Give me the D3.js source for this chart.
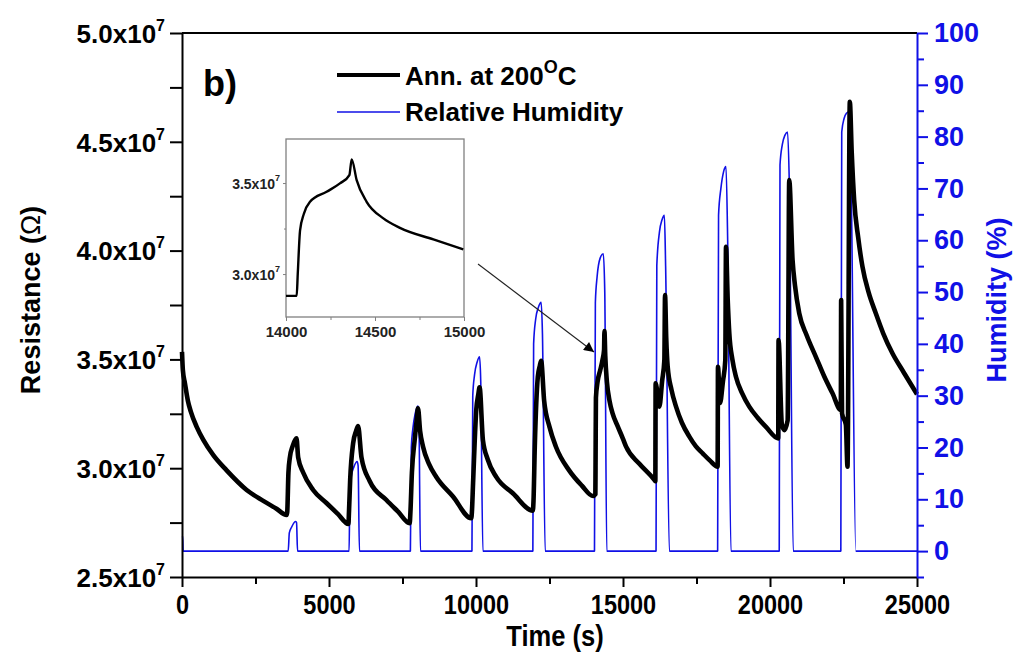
<!DOCTYPE html>
<html><head><meta charset="utf-8">
<script src="https://cdn.jsdelivr.net/npm/d3@7"></script>
<style>
body{margin:0;background:#fff}
svg{display:block}
text{font-family:"Liberation Sans",Arial,Helvetica,sans-serif}
</style>
</head><body>
<svg id="chart" width="1016" height="652"></svg>
<script>
// ---------------- data ----------------
// Resistance (units of 1e7 ohm) vs time (s)
const timeRes = [0,30,100,200,300,500,725,1065,1518,2198,2764,3200,3560,
  3580,3620,3670,3760,3895,3951,4121,4460,4913,5300,5660,
  5680,5720,5820,5920,5990,6104,6387,6953,7350,7745,
  7770,7820,7914,7980,8027,8100,8197,8400,8650,9217,9840,
  9861,9900,10010,10080,10122,10235,10400,10688,11254,11934,
  11956,12000,12103,12170,12216,12318,12500,12715,13168,13600,13983,
  14060,14066,14079,14135,14228,14303,14356,14369,14397,14453,14547,14640,14828,14996,
  15105,15557,16067,16100,
  16110,16237,16330,16407,16430,16470,16520,16650,16804,17000,17257,17480,17710,17950,18219,
  18230,18300,18400,18480,18503,18560,18616,18720,18842,19050,19295,19580,19862,20280,
  20291,20400,20484,20600,20654,20767,20850,20994,21250,21560,21850,22126,22409,
  22420,22450,22580,22636,22715,22780,22862,23000,23145,23350,23598,23850,24164,24550,25000];
const resistance = [3.535,3.45,3.39,3.31,3.26,3.19,3.13,3.06,2.99,2.90,2.85,2.815,2.785,
  2.80,2.98,3.05,3.10,3.137,3.05,2.98,2.90,2.84,2.79,2.744,
  2.80,2.946,3.114,3.17,3.194,3.05,2.94,2.854,2.80,2.747,
  2.80,2.98,3.13,3.22,3.275,3.17,3.10,3.02,2.96,2.87,2.77,
  2.80,2.93,3.27,3.34,3.372,3.13,3.04,2.96,2.885,2.805,
  2.85,3.10,3.42,3.47,3.493,3.31,3.19,3.10,2.99,2.92,2.872,
  2.88,3.0,3.324,3.397,3.452,3.498,3.544,3.63,3.516,3.397,3.306,3.254,3.19,3.136,
  3.099,3.02,2.946,2.94,
  3.39,3.283,3.40,3.497,3.796,3.60,3.466,3.36,3.283,3.21,3.145,3.10,3.068,3.036,3.007,
  3.466,3.30,3.40,3.497,4.018,3.78,3.62,3.50,3.42,3.345,3.283,3.232,3.19,3.137,
  3.589,3.206,3.175,3.22,4.324,3.957,3.84,3.712,3.61,3.512,3.42,3.344,3.267,
  3.773,3.252,3.20,3.007,4.684,4.45,4.233,4.06,3.926,3.81,3.712,3.62,3.528,3.44,3.34];

// Relative humidity (%) vs time (s)
const timeRH = [0,20,40,
  3612,3650,3726,3800,3860,3896,3930,
  5684,5710,5760,5850,5956,5990,6035,
  7768,7800,7850,7930,8000,8027,8060,8110,
  9862,9890,9950,10040,10122,10160,10235,
  11934,11960,12030,12120,12216,12260,12353,
  14030,14060,14120,14220,14330,14380,14448,
  16124,16150,16240,16330,16407,16450,16577,
  18219,18250,18330,18420,18503,18560,18672,
  20314,20340,20420,20510,20597,20660,20790,
  22409,22440,22520,22600,22692,22750,22919,25000];
const humidity = [3,3,0,
  0,3.5,4.6,5.4,5.7,5.5,0,
  0,12,14.5,16.3,17.3,16.5,0,
  0,20,23.5,26.5,27.8,28,25,0,
  0,30,34,36.5,37.5,33,0,
  0,40,44.8,47,48,42,0,
  0,48,53,56.5,57.4,50,0,
  0,55.1,61.6,64,64.8,55,0,
  0,64.8,70,73.2,74.2,60,0,
  0,74.5,78.5,80.3,80.9,70,0,
  0,80.9,83.5,84.5,84.8,75,0,0];

// Inset: zoom on one cycle
const insetTime = [14000,14060,14066,14079,14100,14135,14228,14303,14356,14369,14397,14453,14547,14640,14828,14996];
const insetRes  = [2.88,2.88,3.0,3.24,3.33,3.397,3.452,3.498,3.544,3.63,3.516,3.397,3.306,3.254,3.19,3.136];

const xTicks = [0,5000,10000,15000,20000,25000];
const xMinor = [2500,7500,12500,17500,22500];
const leftTicks = [2.5,3.0,3.5,4.0,4.5,5.0];
const leftMinor = [2.75,3.25,3.75,4.25,4.75];
const rightTicks = [0,10,20,30,40,50,60,70,80,90,100];
const rightMinor = [-5,5,15,25,35,45,55,65,75,85,95];
const insetXTicks = [14000,14500,15000];
const insetXMinor = [14250,14750];
const insetYTicks = [3.0,3.5];
const insetYMinor = [3.25];

// ---------------- drawing ----------------
const BLUE = "#1010e6";
const svg = d3.select("#chart");
const x = d3.scaleLinear([0,25000],[182,917]);
const yL = d3.scaleLinear([2.5,5.0],[577,33]);
const yR = d3.scaleLinear([-5,100],[577,33]);

// data lines
svg.append("path")
  .attr("d", d3.line().curve(d3.curveMonotoneX).x((d,i)=>x(timeRH[i])).y(d=>yR(d))(humidity))
  .attr("fill","none").attr("stroke",BLUE).attr("stroke-width",1.6).attr("stroke-linejoin","round");
svg.append("path")
  .attr("d", d3.line().curve(d3.curveMonotoneX).x((d,i)=>x(timeRes[i])).y(d=>yL(d))(resistance))
  .attr("fill","none").attr("stroke","#000").attr("stroke-width",4.6).attr("stroke-linejoin","round");

// frame top
svg.append("line").attr("x1",182).attr("x2",917).attr("y1",33).attr("y2",33).attr("stroke","#000").attr("stroke-width",2);

function styleAxis(g, color, w){
  g.select(".domain").attr("stroke",color).attr("stroke-width",w);
  g.selectAll(".tick line").attr("stroke",color).attr("stroke-width",w);
}

// bottom axis
const gx = svg.append("g").attr("transform","translate(0,577)")
  .call(d3.axisBottom(x).tickValues(xTicks).tickSize(10).tickPadding(6).tickSizeOuter(0).tickFormat(d3.format("d")));
styleAxis(gx,"#000",2);
gx.selectAll("text").attr("font-size",28).attr("font-weight","bold").attr("fill","#000")
  .attr("transform","scale(0.84,1)").attr("dy","0.75em");
const gxm = svg.append("g").attr("transform","translate(0,577)")
  .call(d3.axisBottom(x).tickValues(xMinor).tickSize(7).tickFormat(""));
gxm.select(".domain").remove(); styleAxis(gxm,"#000",2);

// left axis
const gl = svg.append("g").attr("transform","translate(182,0)")
  .call(d3.axisLeft(yL).tickValues(leftTicks).tickSize(12).tickSizeOuter(0).tickFormat(""));
styleAxis(gl,"#000",2);
gl.selectAll(".tick").append("text")
  .attr("x",-17).attr("dy","0.36em").attr("text-anchor","end")
  .attr("font-size",26).attr("font-weight","bold").attr("fill","#000")
  .each(function(d){
    const t = d3.select(this);
    t.append("tspan").text(d3.format(".1f")(d)+"x10");
    t.append("tspan").attr("font-size",16).attr("dy","-0.75em").text("7");
  });
const glm = svg.append("g").attr("transform","translate(182,0)")
  .call(d3.axisLeft(yL).tickValues(leftMinor).tickSize(12).tickFormat(""));
glm.select(".domain").remove(); styleAxis(glm,"#000",2);

// right axis
const gr = svg.append("g").attr("transform","translate(917,0)")
  .call(d3.axisRight(yR).tickValues(rightTicks).tickSize(11).tickPadding(6).tickSizeOuter(0));
styleAxis(gr,BLUE,2);
gr.selectAll("text").attr("font-size",27).attr("font-weight","bold").attr("fill",BLUE);
const grm = svg.append("g").attr("transform","translate(917,0)")
  .call(d3.axisRight(yR).tickValues(rightMinor).tickSize(7).tickFormat(""));
grm.select(".domain").remove(); styleAxis(grm,BLUE,2);

// axis titles
svg.append("text").attr("transform","translate(40,300) rotate(-90)").attr("text-anchor","middle")
  .attr("font-size",27).attr("font-weight","bold").attr("fill","#000")
  .call(t=>{t.append("tspan").text("Resistance (");t.append("tspan").attr("font-weight","normal").text("Ω");t.append("tspan").text(")");});
svg.append("text").attr("transform","translate(1006,300) rotate(-90)").attr("text-anchor","middle")
  .attr("font-size",27).attr("font-weight","bold").attr("fill",BLUE).text("Humidity (%)");
svg.append("text").attr("transform","translate(555,646) scale(0.85,1)").attr("text-anchor","middle")
  .attr("font-size",30).attr("font-weight","bold").attr("fill","#000").text("Time (s)");

// panel label & legend
svg.append("text").attr("x",203).attr("y",96).attr("font-size",36).attr("font-weight","bold").text("b)");
svg.append("line").attr("x1",337).attr("x2",400).attr("y1",75).attr("y2",75).attr("stroke","#000").attr("stroke-width",4);
svg.append("text").attr("x",405).attr("y",85).attr("font-size",26).attr("font-weight","bold")
  .call(t=>{t.append("tspan").text("Ann. at 200");t.append("tspan").attr("font-size",18).attr("dy","-0.65em").text("O");t.append("tspan").attr("dy","0.45em").text("C");});
svg.append("line").attr("x1",337).attr("x2",400).attr("y1",112).attr("y2",112).attr("stroke",BLUE).attr("stroke-width",1.6);
svg.append("text").attr("x",405).attr("y",121).attr("font-size",26).attr("font-weight","bold").text("Relative Humidity");

// inset
const ix = d3.scaleLinear([14000,15000],[286,464]);
const iy = d3.scaleLinear([2.764,3.742],[317,139]);
const inset = svg.append("g");
inset.append("rect").attr("x",286).attr("y",139).attr("width",178).attr("height",178)
  .attr("fill","#fff").attr("stroke","#808080").attr("stroke-width",1.3);
inset.append("path")
  .attr("d", d3.line().curve(d3.curveMonotoneX).x((d,i)=>ix(insetTime[i])).y(d=>iy(d))(insetRes))
  .attr("fill","none").attr("stroke","#000").attr("stroke-width",2.4).attr("stroke-linejoin","round");
const igx = inset.append("g").attr("transform","translate(0,317)")
  .call(d3.axisBottom(ix).tickValues(insetXTicks).tickSize(4).tickPadding(5).tickSizeOuter(0).tickFormat(d3.format("d")));
igx.select(".domain").remove();
igx.selectAll(".tick line").attr("stroke","#808080");
igx.selectAll("text").attr("font-size",15).attr("font-weight","bold").attr("fill","#222");
inset.append("g").attr("transform","translate(0,317)")
  .call(d3.axisBottom(ix).tickValues(insetXMinor).tickSize(3).tickFormat(""))
  .call(g=>{g.select(".domain").remove();g.selectAll("line").attr("stroke","#808080");});
const igy = inset.append("g").attr("transform","translate(286,0)")
  .call(d3.axisLeft(iy).tickValues(insetYTicks).tickSize(3).tickSizeOuter(0).tickFormat(""));
igy.select(".domain").remove();
igy.selectAll(".tick line").attr("stroke","#808080");
igy.selectAll(".tick").append("text").attr("x",-6).attr("dy","0.36em").attr("text-anchor","end")
  .attr("font-size",14).attr("font-weight","bold").attr("fill","#222")
  .each(function(d){
    const t=d3.select(this);
    t.append("tspan").text(d3.format(".1f")(d)+"x10");
    t.append("tspan").attr("font-size",9).attr("dy","-0.8em").text("7");
  });
inset.append("g").attr("transform","translate(286,0)")
  .call(d3.axisLeft(iy).tickValues(insetYMinor).tickSize(2).tickFormat(""))
  .call(g=>{g.select(".domain").remove();g.selectAll("line").attr("stroke","#808080");});

// arrow
const defs = svg.append("defs");
defs.append("marker").attr("id","ah").attr("viewBox","0 0 10 10").attr("refX",10).attr("refY",5)
  .attr("markerWidth",14).attr("markerHeight",10).attr("markerUnits","userSpaceOnUse").attr("orient","auto")
  .append("path").attr("d","M0,0L10,5L0,10Z").attr("fill","#000");
svg.append("line").attr("x1",478).attr("y1",264).attr("x2",594).attr("y2",352)
  .attr("stroke","#222").attr("stroke-width",1.1).attr("marker-end","url(#ah)");
</script>
</body></html>
